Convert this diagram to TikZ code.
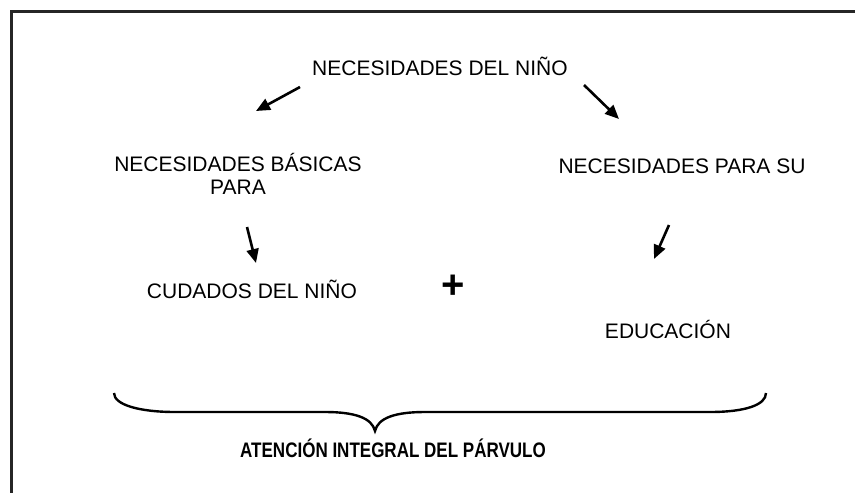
\documentclass[tikz,border=0pt]{standalone}
\usepackage{fontspec}
\setmainfont{Liberation Sans}
\newfontfamily\narrowsans{Liberation Sans}[FakeStretch=0.81]
\usetikzlibrary{arrows.meta}
\begin{document}
\begin{tikzpicture}[x=1pt,y=-1pt,
  lbl/.style={inner sep=0pt,anchor=base,font=\fontsize{21}{23}\selectfont},
  ttl/.style={inner sep=0pt,anchor=base,font=\narrowsans\bfseries\fontsize{21}{23}\selectfont},
  arr/.style={line width=2.6pt,-{Triangle[length=14pt,width=12pt]}},
  frame/.style={line width=2.4pt,draw=black!85},
  brace/.style={line width=2.4pt}]
\useasboundingbox (0,0) rectangle (855,493);
\fill[white] (0,0) rectangle (855,493);
\draw[frame] (11.5,493) -- (11.5,11.5) -- (855,11.5);
\node[lbl] (nn) at (440,75) {NECESIDADES DEL NIÑO};
\node[lbl,align=center] (nb) at (238,194) {NECESIDADES BÁSICAS\\PARA};
\node[lbl] (np) at (682,173) {NECESIDADES PARA SU};
\node[lbl] (cn) at (252,298) {CUDADOS DEL NIÑO};
\node[lbl] (ed) at (668,338) {EDUCACIÓN};
\node[inner sep=0pt,font=\bfseries\fontsize{40}{40}\selectfont] (pl) at (453,287) {+};
\node[ttl] (at) at (393,457) {ATENCIÓN INTEGRAL DEL PÁRVULO};
\coordinate (a1s) at (300,87); \coordinate (a1e) at (256,111);
\coordinate (a2s) at (584,85); \coordinate (a2e) at (619,119);
\coordinate (a3s) at (247,227); \coordinate (a3e) at (256,263);
\coordinate (a4s) at (669,225); \coordinate (a4e) at (654,259);
\draw[arr] (a1s) -- (a1e);
\draw[arr] (a2s) -- (a2e);
\draw[arr] (a3s) -- (a3e);
\draw[arr] (a4s) -- (a4e);
\coordinate (bl) at (114,393); \coordinate (bt) at (375,431); \coordinate (br) at (766,393);
\draw[brace] (bl) .. controls (114,405) and (140,412) .. (175,412) -- (325,412)
  .. controls (355,412) and (372,418) .. (bt)
  .. controls (378,418) and (395,412) .. (425,412) -- (710,412)
  .. controls (745,412) and (766,405) .. (br);
\end{tikzpicture}
\end{document}
